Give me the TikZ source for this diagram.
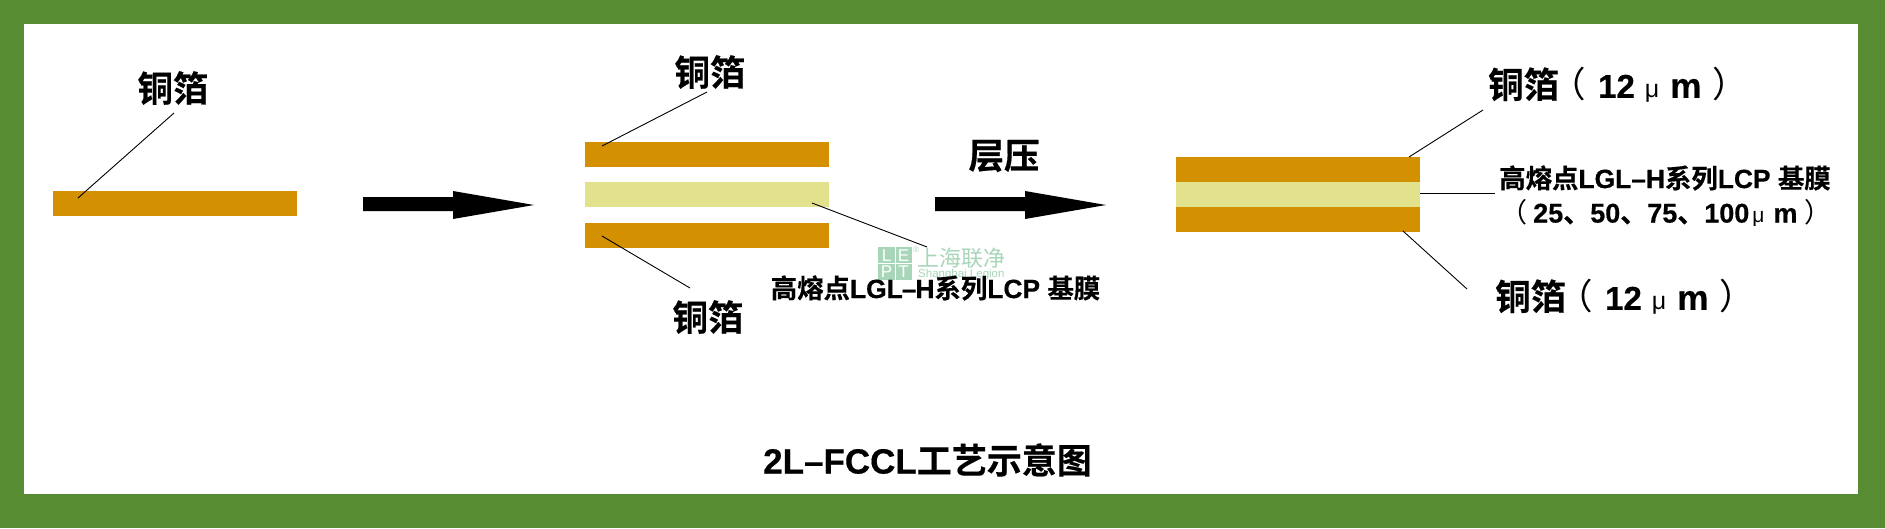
\documentclass[tikz,border=0pt]{standalone}
\usepackage{fontspec}
\setmainfont{Liberation Sans}[BoldFeatures={FakeBold=0.4}]
\newfontfamily\cjk{Noto Sans CJK SC}[BoldFont={* Bold},BoldFeatures={FakeBold=0.4}]
\newfontfamily\lat{Liberation Sans}[BoldFeatures={FakeBold=0.4}]
\definecolor{framegreen}{RGB}{88,140,50}
\definecolor{copperc}{RGB}{211,144,0}
\definecolor{filmc}{RGB}{227,226,140}
\definecolor{markgreen}{RGB}{168,214,184}
\tikzset{
  copperlayer/.style={fill=copperc,minimum width=244pt,minimum height=25pt,inner sep=0pt,outer sep=0pt,anchor=north west},
  filmlayer/.style={fill=filmc,minimum width=244pt,minimum height=25pt,inner sep=0pt,outer sep=0pt,anchor=north west},
  leader/.style={draw=black,line width=0.9pt},
  bigarrow/.style={fill=black},
  foil/.style={inner sep=0pt,font=\cjk\bfseries\fontsize{35.5}{36}\selectfont},
  smalltext/.style={inner sep=0pt,font=\bfseries\fontsize{26.4}{30}\selectfont},
  markcell/.style={inner sep=0pt,text=white,font=\lat\fontsize{17}{17}\selectfont},
  marktext/.style={inner sep=0pt,text=markgreen,anchor=west},
}
\newcommand{\zh}[1]{{\cjk #1}}
\newcommand{\paren}[1]{{\cjk\mdseries #1}}
\newcommand{\foilspec}{铜箔\kern-9pt\paren{（}\kern12.5pt{\lat\fontsize{33}{33}\selectfont 12}\kern10pt{\lat\mdseries\fontsize{25}{25}\selectfont μ}\kern11pt{\lat\fontsize{35}{35}\selectfont m}\kern11pt\paren{）}}
\begin{document}
\begin{tikzpicture}[x=1pt,y=-1pt]
\useasboundingbox (0,0) rectangle (1885,528);
\fill[framegreen] (0,0) rectangle (1885,528);
\fill[white] (24,24) rectangle (1858,494);

% watermark
\fill[markgreen] (878,247) rectangle (912,280);
\draw[white,line width=1pt] (895,247) -- (895,280) (878,263.5) -- (912,263.5);
\node[markcell] (mL) at (886.5,255.5) {L};
\node[markcell] (mE) at (903.5,255.5) {E};
\node[markcell] (mP) at (886.5,272) {P};
\node[markcell] (mT) at (903.5,272) {T};
\node[marktext,font=\lat\fontsize{8}{8}\selectfont] (mR) at (913,249.5) {®};
\node[marktext,font=\cjk\fontsize{22}{22}\selectfont] (mZh) at (917,258) {上海联净};
\node[marktext,font=\lat\fontsize{11.5}{12}\selectfont] (mEn) at (918,275) {Shanghai Legion};

% layers
\node[copperlayer] (s1) at (53,191) {};
\node[copperlayer] (s2a) at (585,142) {};
\node[filmlayer] (s2b) at (585,182) {};
\node[copperlayer] (s2c) at (585,223) {};
\node[copperlayer] (s3a) at (1176,157) {};
\node[filmlayer] (s3b) at (1176,182) {};
\node[copperlayer] (s3c) at (1176,207) {};

% labels
\node[foil] (t1) at (173,88) {铜箔};
\node[foil] (t2) at (710,72) {铜箔};
\node[foil] (t3) at (708,317) {铜箔};
\node[foil] (t4) at (1004,156) {层压};
\node[smalltext] (t5) at (935.5,288) {\zh{高熔点}LGL\kern-1pt–\kern-1ptH\zh{系列}LCP \zh{基膜}};
\node[smalltext] (t6) at (1665,178) {\zh{高熔点}LGL–H\zh{系列}LCP \zh{基膜}};
\node[smalltext,anchor=west,font=\bfseries\fontsize{27}{30}\selectfont] (t7) at (1500,213) {\paren{（}\kern6pt 25\zh{、}50\zh{、}75\zh{、}100\kern3pt{\mdseries\fontsize{21}{21}\selectfont μ}\kern9pt m\kern7pt\paren{）}};
\node[foil,anchor=west] (t8) at (1488,85) {\foilspec};
\node[foil,anchor=west] (t9) at (1495,297) {\foilspec};
\node[inner sep=0pt,font=\bfseries\fontsize{35}{36}\selectfont] (t10) at (927.5,460) {2L–FCCL\zh{工艺示意图}};

% leaders
\coordinate (a1) at (78,198);
\coordinate (b1) at (174,113);
\draw[leader] (a1) -- (b1);
\coordinate (a2) at (602,146);
\coordinate (b2) at (707,92);
\draw[leader] (a2) -- (b2);
\coordinate (a3) at (602,236);
\coordinate (b3) at (690,288);
\draw[leader] (a3) -- (b3);
\coordinate (a4) at (812,203);
\coordinate (b4) at (927,247);
\draw[leader] (a4) -- (b4);
\coordinate (a5) at (1409,157);
\coordinate (b5) at (1483,110);
\draw[leader] (a5) -- (b5);
\coordinate (a6) at ([yshift=1pt]s3b.east);
\coordinate (b6) at (1495,193.5);
\draw[leader] (a6) -- (b6);
\coordinate (a7) at (1403,231);
\coordinate (b7) at (1467,289);
\draw[leader] (a7) -- (b7);

% process arrows
\fill[bigarrow] (363,197) -- (453,197) -- (453,191) -- (534,205) -- (453,219) -- (453,211) -- (363,211) -- cycle;
\fill[bigarrow] (935,197) -- (1025,197) -- (1025,191) -- (1106,205) -- (1025,219) -- (1025,211) -- (935,211) -- cycle;
\end{tikzpicture}
\end{document}
